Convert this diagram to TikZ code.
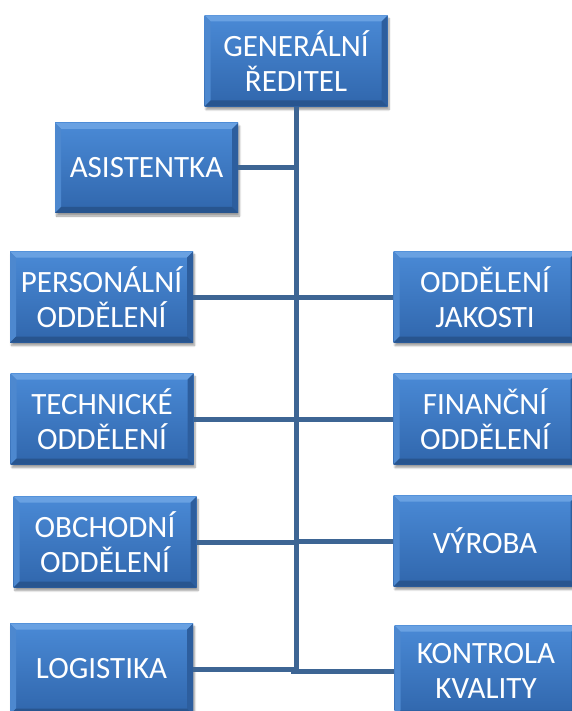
\documentclass[tikz,border=0pt]{standalone}
\usepackage{fontspec}
\setmainfont{Carlito}
\usetikzlibrary{calc,shadows.blur}

\definecolor{boxtop}{HTML}{4A8AD6}
\definecolor{boxbot}{HTML}{3066AC}
\definecolor{bevlight}{HTML}{69A1E2}
\definecolor{bevside}{HTML}{4D88CF}
\definecolor{bevdark}{HTML}{2D5E9E}
\definecolor{bevbottom}{HTML}{28558F}
\definecolor{connblue}{HTML}{3D6594}

\tikzset{
  orgbox/.style={
    rectangle, minimum width=183pt, minimum height=91pt, inner sep=0pt,
    text=white, align=center,
    font=\fontsize{31}{35}\selectfont,
    top color=boxtop, bottom color=boxbot,
    blur shadow={shadow xshift=1.5pt, shadow yshift=-3pt, shadow blur steps=6, shadow opacity=40},
    path picture={
      \coordinate (nw) at (path picture bounding box.north west);
      \coordinate (ne) at (path picture bounding box.north east);
      \coordinate (sw) at (path picture bounding box.south west);
      \coordinate (se) at (path picture bounding box.south east);
      \fill[bevlight] (nw) -- (ne) -- ($(ne)+(-6pt,-6pt)$) -- ($(nw)+(6pt,-6pt)$) -- cycle;
      \fill[bevside] (nw) -- (sw) -- ($(sw)+(6pt,6pt)$) -- ($(nw)+(6pt,-6pt)$) -- cycle;
      \fill[bevdark] (ne) -- (se) -- ($(se)+(-6pt,6pt)$) -- ($(ne)+(-6pt,-6pt)$) -- cycle;
      \fill[bevbottom] (sw) -- (se) -- ($(se)+(-6pt,6pt)$) -- ($(sw)+(6pt,6pt)$) -- cycle;
    }
  },
  conn/.style={draw=connblue, line width=5pt}
}

\begin{document}
\begin{tikzpicture}[x=1pt, y=-1pt]
  \useasboundingbox (0,0) rectangle (572,711);

  % boxes
  \node[orgbox] (gen)  at (296,61)    {GENERÁLNÍ\\ŘEDITEL};
  \node[orgbox, minimum height=90pt] (asis) at (146.5,168) {ASISTENTKA};
  \node[orgbox] (pers) at (101.5,297) {PERSONÁLNÍ\\ODDĚLENÍ};
  \node[orgbox] (jak)  at (485,297)   {ODDĚLENÍ\\JAKOSTI};
  \node[orgbox] (tech) at (102,419)   {TECHNICKÉ\\ODDĚLENÍ};
  \node[orgbox] (fin)  at (485,419)   {FINANČNÍ\\ODDĚLENÍ};
  \node[orgbox] (obch) at (105,542)   {OBCHODNÍ\\ODDĚLENÍ};
  \node[orgbox] (vyr)  at (485,541)   {VÝROBA};
  \node[orgbox] (log)  at (101.5,669) {LOGISTIKA};
  \node[orgbox] (kon)  at (486,671)   {KONTROLA\\KVALITY};

  % trunk and branches
  \draw[conn] (gen.south) -- (gen.south |- log.east);
  \draw[conn] (asis.east) -- (asis.east -| gen.south);
  \draw[conn] (pers.east) -- (pers.east -| gen.south);
  \draw[conn] (jak.west)  -- (jak.west -| gen.south);
  \draw[conn] (tech.east) -- (tech.east -| gen.south);
  \draw[conn] (fin.west)  -- (fin.west -| gen.south);
  \draw[conn] (obch.east) -- (obch.east -| gen.south);
  \draw[conn] (vyr.west)  -- (vyr.west -| gen.south);
  \draw[conn] (log.east)  -- (log.east -| gen.south);
  \draw[conn] ($(gen.south |- log.east)+(-2.5pt,0)$) |- (kon.west);
\end{tikzpicture}
\end{document}
